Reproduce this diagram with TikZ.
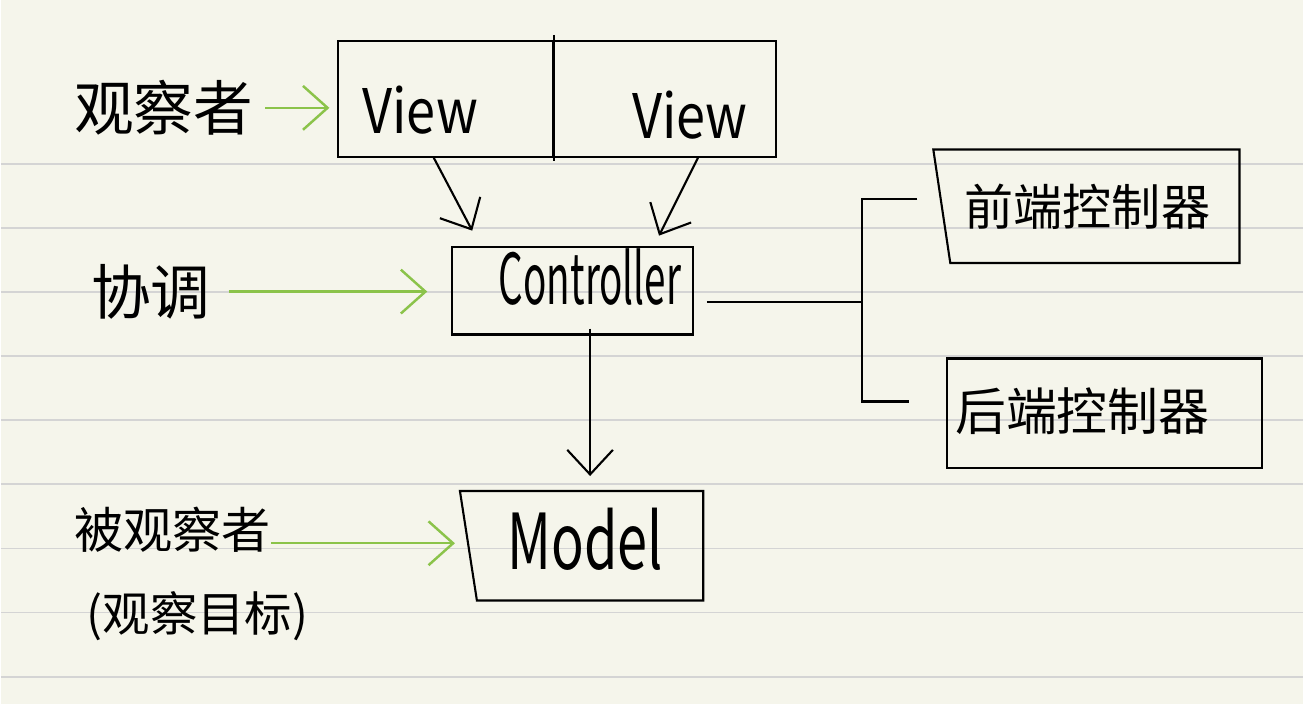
\documentclass[tikz,border=0pt]{standalone}
\usepackage{fontspec}
\usepackage{xcolor}
\usetikzlibrary{arrows.meta,calc,positioning}
\setmainfont{Noto Sans CJK SC}
\newfontfamily\handview[FakeStretch=0.85]{Noto Sans CJK SC}
\newfontfamily\handctrl[FakeStretch=0.55]{Noto Sans CJK SC}
\newfontfamily\handmodel[FakeStretch=0.7]{Noto Sans CJK SC}
\definecolor{paper}{RGB}{245,245,235}
\definecolor{ruled}{RGB}{212,212,212}
\definecolor{pengreen}{RGB}{139,195,74}
\tikzset{
    box/.style={rectangle, draw=black, line width=1.2pt, inner sep=0pt},
    shell/.style={rectangle, draw=none, inner sep=0pt},
    hand/.style={inner sep=0pt, font=\fontsize{34}{38}\selectfont},
    wire/.style={line width=1.2pt, black},
    link/.style={line width=1.2pt, black, -{Straight Barb[length=14pt, width=26pt]}},
    glink/.style={line width=1.4pt, pengreen, -{Straight Barb[length=14pt, width=25pt]}},
}
\begin{document}
\begin{tikzpicture}[x=0.02cm, y=-0.02cm]
    % Paper
    \fill[paper] (0,0) rectangle (1304,705);
    \foreach \i in {0,...,8} {
        \draw[ruled, line width=1pt] (0,164+64.2*\i) -- (1304,164+64.2*\i);
    }
    % Views
    \node[box, minimum width=4.3cm, minimum height=2.32cm] (view1) at (445.5,99) {};
    \node[box, minimum width=4.46cm, minimum height=2.32cm] (view2) at (664.5,99) {};
    \draw[wire] ($(view1.north east)+(0,-5)$) -- ($(view1.south east)+(0,3)$);
    \node[hand, font=\handview\fontsize{35}{40}\selectfont] (vtxt1) at (420,110) {View};
    \node[hand, font=\handview\fontsize{35}{40}\selectfont] (vtxt2) at (690,115) {View};
    % Controller
    \node[box, minimum width=4.82cm, minimum height=1.76cm] (ctrl) at (572.5,291) {};
    \node[hand, font=\handctrl\fontsize{40}{44}\selectfont] (ctxt) at (590,277) {Controller};
    % Model
    \node[shell, minimum width=4.86cm, minimum height=2.18cm] (mdl) at (581.5,546.5) {};
    \draw[wire] (mdl.north west) -- (mdl.north east) -- (mdl.south east)
        -- ($(mdl.south west)+(17,0)$) -- cycle;
    \node[hand, font=\handmodel\fontsize{44}{48}\selectfont] (mtxt) at (585,540) {Model};
    % Front / back controllers
    \node[shell, minimum width=6.12cm, minimum height=2.26cm] (front) at (1087,206.5) {};
    \draw[wire] (front.north west) -- (front.north east) -- (front.south east)
        -- ($(front.south west)+(17,0)$) -- cycle;
    \node[hand, font=\fontsize{28}{32}\selectfont] (ftxt) at (1088,207) {前端控制器};
    \node[box, minimum width=6.32cm, minimum height=2.2cm] (back) at (1105,414) {};
    \node[hand, font=\fontsize{29}{32}\selectfont] (btxt) at (1083,412) {后端控制器};
    % Labels
    \node[hand] (obs) at (163,108) {观察者};
    \node[hand] (coord) at (150,292) {协调};
    \node[hand, font=\fontsize{28}{32}\selectfont] (subj) at (172,530) {被观察者};
    \node[hand, font=\fontsize{27}{30}\selectfont] (subjnote) at (197,617) {(观察目标)};
    % Green arrows
    \draw[glink] ($(obs.east)+(12,0)$) -- ($(obs.east -| view1.west)+(-8,0)$);
    \draw[glink] ($(coord.east)+(18,0)$) -- ($(coord.east -| ctrl.west)+(-24,0)$);
    \draw[glink] ($(subj.east)+(0,14)$) -- ($(subj.east -| mdl.west)+(-5,14)$);
    % Black arrows
    \draw[link] ($(view1.south)+(-12,0)$) -- ($(ctrl.north west)+(21,-15)$);
    \draw[link] ($(view2.south east)+(-79,0)$) -- ($(ctrl.north east)+(-35,-10)$);
    \draw[link] ($(ctrl.south)+(17.5,-7)$) -- ($(mdl.north)+(8.5,-15)$);
    % Bracket to front / back
    \coordinate (jn) at (862,302);
    \draw[wire] ($(ctrl.east)+(13,11)$) -- (jn);
    \draw[wire] ($(front.west)+(-16,-7.5)$) -| (jn) |- ($(back.west)+(-37,-12)$);
\end{tikzpicture}
\end{document}
